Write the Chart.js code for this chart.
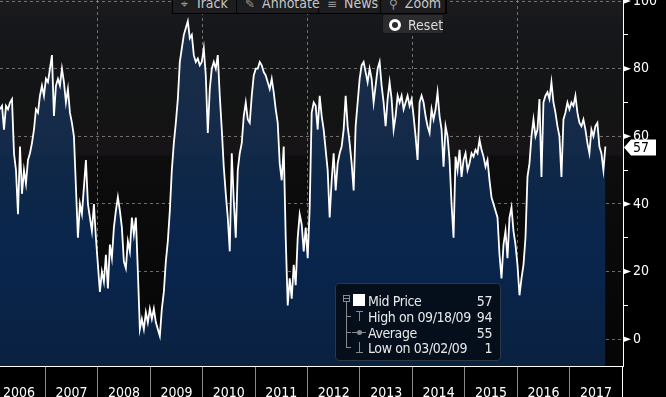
<!DOCTYPE html>
<html>
<head>
<meta charset="utf-8">
<script src="https://cdn.jsdelivr.net/npm/chart.js@4.4.0/dist/chart.umd.min.js"></script>
<style>
html, body { margin:0; padding:0; background:#000; overflow:hidden; }
#wrap { position:relative; width:666px; height:397px; overflow:hidden; }
canvas { display:block; }
.bb { font-family:'Liberation Sans Narrow','DejaVu Sans Condensed','Liberation Sans',sans-serif; font-size:14px; }
#toolbar { position:absolute; left:172px; top:-8px; height:20px; display:flex; background:#1d1d1f; border:1px solid #000; color:#c8c8c8; }
#toolbar .btn { height:20px; line-height:20px; padding-left:8px; box-sizing:border-box; border-right:1px solid #050505; white-space:nowrap; }
#toolbar .ic { color:#9a9a9a; margin-right:7px; font-family:'DejaVu Sans',sans-serif; font-size:12px; }
#reset { position:absolute; left:382px; top:14px; width:62px; height:20px; line-height:20px; background:#2b2b2d; border:1px solid #151515; box-sizing:border-box; color:#ddd; border-radius:2px; }
#reset .ring { position:absolute; left:6px; top:4px; width:6px; height:6px; border:3px solid #fff; border-radius:50%; }
#reset .txt { position:absolute; left:25px; top:0; }
#legend { position:absolute; left:335px; top:283px; width:166px; height:78px; background:rgba(4,14,24,0.92); border:1px solid #2b3742; border-radius:4px; box-sizing:border-box; color:#e8e8e8; letter-spacing:-0.4px; }
#legend .row { position:absolute; left:32px; right:8px; height:16px; line-height:16px; }
#legend .val { position:absolute; right:0; top:0; }
#legend .g { position:absolute; background:#8a8a8a; }
</style>
</head>
<body>
<div id="wrap">
  <canvas id="chart" width="666" height="397"></canvas>
  <div id="toolbar" class="bb">
    <div class="btn" style="width:64px"><span class="ic">⌖</span>Track</div>
    <div class="btn" style="width:82px"><span class="ic">✎</span>Annotate</div>
    <div class="btn" style="width:62px"><span class="ic">≡</span>News</div>
    <div class="btn" style="width:65px"><span class="ic">⚲</span>Zoom</div>
  </div>
  <div id="reset" class="bb"><span class="ring"></span><span class="txt">Reset</span></div>
  <div id="legend" class="bb">
    <div class="g" style="left:7px;top:11px;width:7px;height:7px;background:none;border:1px solid #8a8a8a;box-sizing:border-box"></div>
    <div class="g" style="left:8px;top:14px;width:5px;height:1px"></div>
    <div class="g" style="left:10px;top:18px;width:1px;height:46px"></div>
    <div class="g" style="left:10px;top:32px;width:5px;height:1px"></div>
    <div class="g" style="left:10px;top:48px;width:5px;height:1px"></div>
    <div class="g" style="left:10px;top:63px;width:5px;height:1px"></div>
    <div class="g" style="left:17px;top:10px;width:12px;height:12px;background:#fff"></div>
    <div class="g" style="left:20px;top:27px;width:7px;height:1px"></div>
    <div class="g" style="left:23px;top:27px;width:1px;height:10px"></div>
    <div class="g" style="left:16px;top:48px;width:14px;height:1px"></div>
    <div class="g" style="left:21px;top:46px;width:5px;height:5px;border-radius:50%"></div>
    <div class="g" style="left:23px;top:58px;width:1px;height:10px"></div>
    <div class="g" style="left:20px;top:68px;width:7px;height:1px"></div>
    <div class="row" style="top:9px">Mid Price<span class="val">57</span></div>
    <div class="row" style="top:25px">High on 09/18/09<span class="val">94</span></div>
    <div class="row" style="top:41px">Average<span class="val">55</span></div>
    <div class="row" style="top:56px">Low on 03/02/09<span class="val">1</span></div>
  </div>
</div>
<script>
// mid price, every two weeks from Feb 2006
const startYear = 2006.136;
const stepYears = 0.0381;
const midPrice = [
    68,69,62,69,68,70,71,55,50,37,57,43,50,46,53,55,58,62,68,67,72,75,72,77,76,80,84,66,75,77,
    75,80,76,70,74,67,64,60,45,30,40,37,45,53,40,36,32,40,30,22,14,20,17,
    25,15,28,24,33,38,42,38,33,23,21,29,26,36,31,36,20,3,6,3,8,5,9,6,9,5,3,1,9,14,
    23,29,38,50,58,64,71,82,86,90,92,94,89,90,84,82,83,81,82,86,78,61,
    74,80,82,80,84,72,62,51,43,36,26,55,41,30,50,55,58,66,70,65,64,72,78,80,80,82,81,79,78,76,
    74,77,73,68,64,52,47,57,30,10,18,12,22,16,30,37,34,26,33,24,39,67,70,
    69,62,72,66,62,56,50,36,47,55,44,52,55,57,62,72,63,58,52,44,63,70,77,81,82,79,76,80,77,70,
    75,80,82,75,70,63,71,76,71,62,66,72,70,72,68,70,72,69,71,66,60,53,70,
    72,70,66,63,61,68,65,68,73,66,62,51,63,60,53,40,30,54,50,56,48,53,55,50,52,55,54,56,55,59,
    56,54,51,53,47,42,40,38,36,25,18,28,32,24,36,39,32,28,22,13,18,22,
    30,48,52,60,65,60,62,71,48,70,72,73,71,76,70,67,63,60,48,65,67,70,68,70,69,72,67,64,63,65,
    62,58,55,62,60,63,64,57,55,50,57
];
const yearLabels = ['2006','2007','2008','2009','2010','2011','2012','2013','2014','2015','2016','2017'];
const yearTicks = [2007,2008,2009,2010,2011,2012,2013,2014,2015,2016,2017,2018];
const yTicks = [0,10,20,30,40,50,60,70,80,90,100];
const lastValue = 57;

const FONT = "'Liberation Sans Narrow','DejaVu Sans Condensed','Liberation Sans',sans-serif";
const points = midPrice.map((v, i) => ({x: startYear + i * stepYears, y: v}));

const bgPlugin = {
    id: 'bg',
    beforeDraw(chart) {
        const ctx = chart.ctx, ca = chart.chartArea;
        ctx.save();
        ctx.fillStyle = '#000';
        ctx.fillRect(0, 0, chart.width, chart.height);
        const g = ctx.createLinearGradient(0, ca.top, 0, ca.bottom);
        g.addColorStop(0, '#1c1b1e');
        g.addColorStop(0.08, '#15171a');
        g.addColorStop(0.35, '#131313');
        g.addColorStop(0.37, '#181517');
        g.addColorStop(0.42, '#161416');
        g.addColorStop(0.43, '#0d0d0e');
        g.addColorStop(1, '#050505');
        ctx.fillStyle = g;
        ctx.fillRect(ca.left, ca.top, ca.right - ca.left, ca.bottom - ca.top);
        ctx.restore();
    },
    afterDraw(chart) {
        const ctx = chart.ctx, xs = chart.scales.x, ys = chart.scales.y;
        ctx.save();
        // year labels centred in each year
        ctx.fillStyle = '#fff';
        ctx.font = '14px ' + FONT;
        ctx.textAlign = 'center';
        ctx.textBaseline = 'alphabetic';
        yearLabels.forEach((lab, i) => {
            ctx.fillText(lab, xs.getPixelForValue(Number(lab) + 0.5), chart.height);
        });
        // little flags on the major y ticks
        const x0 = ys.left;
        yTicks.filter(v => v % 20 === 0).forEach(v => {
            const y = ys.getPixelForValue(v);
            ctx.beginPath();
            ctx.moveTo(x0, y - 3);
            ctx.lineTo(x0 + 8, y);
            ctx.lineTo(x0, y + 3);
            ctx.closePath();
            ctx.fill();
        });
        // last value badge
        const y = ys.getPixelForValue(lastValue) + 1;
        ctx.beginPath();
        ctx.moveTo(x0 + 1, y);
        ctx.lineTo(x0 + 8, y - 8);
        ctx.lineTo(x0 + 33, y - 8);
        ctx.lineTo(x0 + 33, y + 8);
        ctx.lineTo(x0 + 8, y + 8);
        ctx.closePath();
        ctx.fill();
        ctx.fillStyle = '#000';
        ctx.textAlign = 'left';
        ctx.textBaseline = 'middle';
        ctx.fillText(String(lastValue), x0 + 10, y + 1);
        ctx.restore();
    }
};

new Chart(document.getElementById('chart').getContext('2d'), {
    type: 'line',
    data: {
        datasets: [{
            data: points,
            borderColor: '#fff',
            borderWidth: 1.8,
            pointRadius: 0,
            tension: 0,
            fill: 'start',
            backgroundColor: function(ctx) {
                const ca = ctx.chart.chartArea;
                if (!ca) return '#0d2848';
                const g = ctx.chart.ctx.createLinearGradient(0, ca.top, 0, ca.bottom);
                g.addColorStop(0, '#1b2d46');
                g.addColorStop(0.4, '#142a49');
                g.addColorStop(0.45, '#0f2848');
                g.addColorStop(0.7, '#09254d');
                g.addColorStop(1, '#0a2140');
                return g;
            }
        }]
    },
    options: {
        responsive: false,
        animation: false,
        devicePixelRatio: 1,
        layout: {padding: 0},
        plugins: {legend: {display: false}, tooltip: {enabled: false}},
        scales: {
            x: {
                type: 'linear',
                min: 2006.136,
                max: 2018.016,
                z: 1,
                afterBuildTicks: s => { s.ticks = yearTicks.map(v => ({value: v})); },
                afterFit: s => { s.height = 31; s.paddingLeft = 0; s.paddingRight = 0; },
                ticks: {display: false},
                grid: {
                    color: c => (c.tick && c.tick.value % 2 === 0 && c.tick.value < 2018) ? 'rgba(150,150,150,0.7)' : 'rgba(0,0,0,0)',
                    tickColor: c => (c.tick && c.tick.value === 2018) ? '#fff' : '#8a8a8a',
                    tickLength: 31,
                    tickBorderDash: [],
                    lineWidth: 1
                },
                border: {display: true, color: '#fff', width: 1, dash: [3, 3]}
            },
            y: {
                position: 'right',
                min: -7.9,
                max: 100.3,
                z: 1,
                afterBuildTicks: s => { s.ticks = yTicks.map(v => ({value: v})); },
                afterFit: s => { s.width = 43; s.paddingTop = 0; s.paddingBottom = 0; },
                ticks: {
                    color: '#fff',
                    padding: 5,
                    font: {family: FONT, size: 14},
                    callback: v => (v % 20 === 0 ? String(v) : '')
                },
                grid: {
                    color: c => (c.tick && c.tick.value % 20 === 0) ? 'rgba(150,150,150,0.7)' : 'rgba(0,0,0,0)',
                    tickColor: '#fff',
                    tickLength: 5,
                    tickBorderDash: [],
                    lineWidth: 1
                },
                border: {display: true, color: '#fff', width: 1, dash: [3, 3]}
            }
        }
    },
    plugins: [bgPlugin]
});
</script>
</body>
</html>
